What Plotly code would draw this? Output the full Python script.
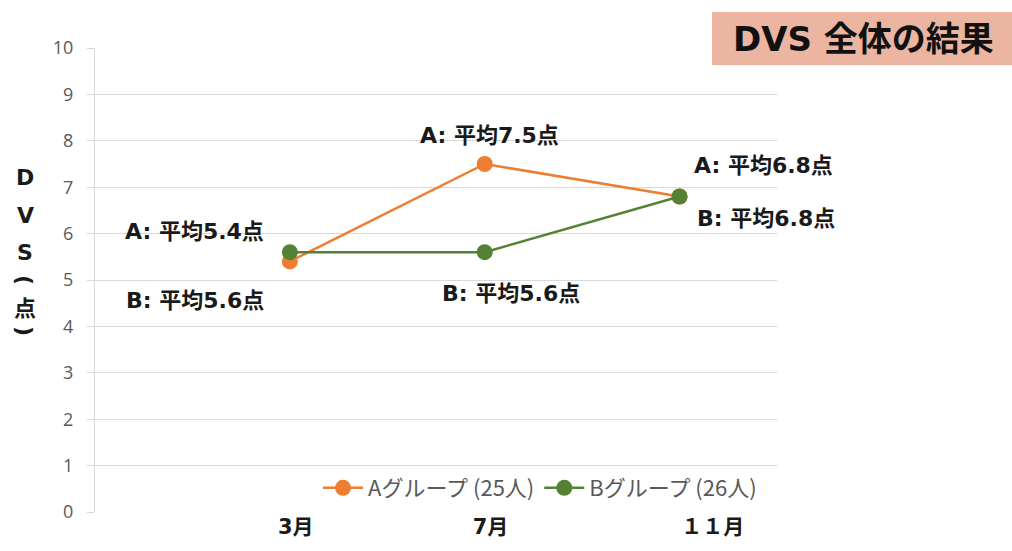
import plotly.graph_objects as go

months = ["3月", "7月", "１１月"]
x_pos = [1, 2, 3]
group_a = [5.4, 7.5, 6.8]
group_b = [5.6, 5.6, 6.8]
name_a = "Aグループ (25人)"
name_b = "Bグループ (26人)"
y_ticks = list(range(0, 11))
title_text = "DVS 全体の結果"
ytitle_chars = ["D", "V", "S", "(", "点", ")"]

ORANGE = "#ED7D31"
GREEN = "#548235"
GRID = "#D9D9D9"
JP = "Noto Sans CJK JP"
MIX = "DejaVu Sans, Noto Sans CJK JP"

# pixel geometry of plot area
L, R, T, B = 95, 777, 48, 512
W, H = R - L, B - T

fig = go.Figure()
fig.add_trace(go.Scatter(x=x_pos, y=group_a, mode="lines+markers", name=name_a,
                         line=dict(color=ORANGE, width=2.5),
                         marker=dict(color=ORANGE, size=16)))
fig.add_trace(go.Scatter(x=x_pos, y=group_b, mode="lines+markers", name=name_b,
                         line=dict(color=GREEN, width=2.5),
                         marker=dict(color=GREEN, size=16)))

ann_font = dict(family=MIX, size=22, color="#1a1a1a", weight="bold")
# label offsets (pixels) relative to data points
a_off = [(-95, 30), (5, 29), (84, 31)]
b_off = [(-95, -48), (26, -41), (86, -22)]
for i in range(3):
    fig.add_annotation(x=x_pos[i], y=group_a[i], text=f"A: 平均{group_a[i]}点",
                       showarrow=False, xanchor="center", yanchor="middle",
                       xshift=a_off[i][0], yshift=a_off[i][1], font=ann_font)
    fig.add_annotation(x=x_pos[i], y=group_b[i], text=f"B: 平均{group_b[i]}点",
                       showarrow=False, xanchor="center", yanchor="middle",
                       xshift=b_off[i][0], yshift=b_off[i][1], font=ann_font)

# vertical y-axis title (stacked characters, brackets rotated as in vertical writing)
ty = [177, 216, 252, 280, 306, 331]
for ch, py in zip(ytitle_chars, ty):
    is_br = ch in "()"
    fig.add_annotation(x=(25 - L) / W, y=(B - py) / H, xref="paper", yref="paper",
                       text=ch, showarrow=False, xanchor="center", yanchor="middle",
                       textangle=90 if is_br else 0,
                       font=dict(family=JP if ch == "点" else MIX,
                                 size=22, color="#1a1a1a", weight="bold"))

# title box
fig.add_shape(type="rect", xref="paper", yref="paper",
              x0=(712 - L) / W, x1=(1012 - L) / W,
              y0=(B - 65) / H, y1=(B - 12) / H,
              fillcolor="#EBB5A1", line=dict(width=0), layer="below")
fig.add_annotation(x=(863 - L) / W, y=(B - 39) / H, xref="paper", yref="paper",
                   text=title_text, showarrow=False, xanchor="center", yanchor="middle",
                   font=dict(family=MIX, size=34, color="#111111", weight="bold"))

label_shift = [0.03, 0.03, 0.17]
fig.update_layout(
    width=1012, height=551,
    margin=dict(l=L, r=1012 - R, t=T, b=551 - B),
    paper_bgcolor="white", plot_bgcolor="white",
    showlegend=True,
    legend=dict(orientation="h", x=(318 - L) / W, y=(B - 488) / H,
                xanchor="left", yanchor="middle", bgcolor="rgba(0,0,0,0)",
                font=dict(family=JP, size=22, color="#595959"),
                itemwidth=40, tracegroupgap=0),
    xaxis=dict(range=[0, 3.5], tickvals=[x + s for x, s in zip(x_pos, label_shift)],
               ticktext=months, showgrid=False,
               zeroline=False, showline=False, ticks="",
               tickfont=dict(family=MIX, size=21, color="#1a1a1a", weight="bold")),
    yaxis=dict(range=[0, 10], tickvals=y_ticks, showgrid=True, gridcolor=GRID, gridwidth=1,
               zeroline=False, showline=True, linecolor=GRID, linewidth=1,
               ticks="outside", ticklen=7, tickcolor=GRID, ticklabelstandoff=10,
               tickfont=dict(family="Open Sans", size=18, color="#595959")),
)

fig.write_html("out.html")
